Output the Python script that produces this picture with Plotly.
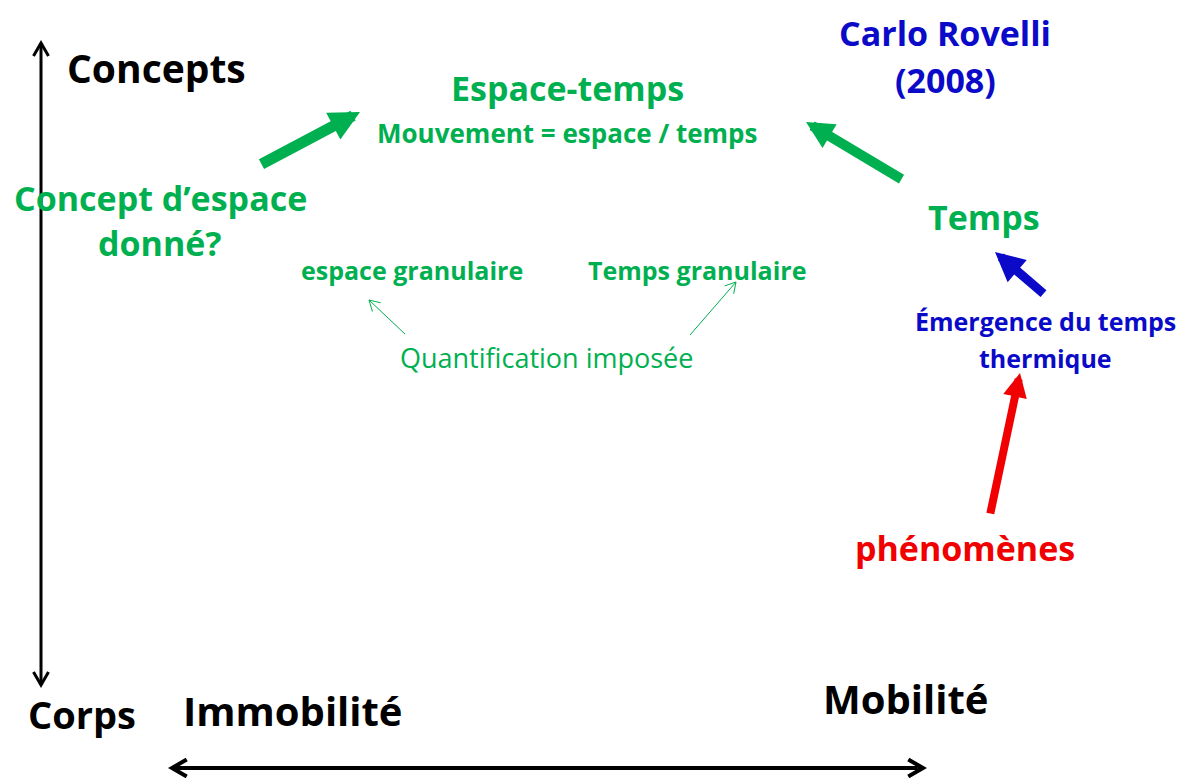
import math
import plotly.graph_objects as go

W, H = 1193, 778
FONT = "'Open Sans', Lato, sans-serif"

GREEN = "#00B050"
BLUE = "#0A0AC8"
RED = "#F00000"
BLACK = "#000000"

# Text labels
label_text = [
    "Concepts", "Corps", "Immobilité", "Mobilité",
    "Espace-temps", "Mouvement = espace / temps",
    "Concept d’espace", "donné?",
    "Temps", "espace granulaire", "Temps granulaire",
    "Quantification imposée",
    "Carlo Rovelli", "(2008)",
    "Émergence du temps", "thermique",
    "phénomènes",
]
label_x = [156, 82, 293, 905, 567, 567, 160, 160, 984, 412, 697, 546, 945, 945, 1045, 1045, 965]
label_y = [67, 714, 710, 698, 88, 133, 198, 243, 217, 270, 270, 357, 33, 80, 321, 358, 548]
label_size = [39, 38, 40, 40, 34, 26, 34, 34, 34, 25, 25, 27, 34, 34, 25, 25, 34]
label_color = [BLACK, BLACK, BLACK, BLACK, GREEN, GREEN, GREEN, GREEN, GREEN, GREEN, GREEN,
               GREEN, BLUE, BLUE, BLUE, BLUE, RED]
label_bold = [True] * 11 + [False] + [True] * 5

# Thick arrows with filled heads: tail (x0, y0) -> tip (x1, y1)
thick_x0 = [260, 903, 1045, 990]
thick_y0 = [165, 180, 295, 515]
thick_x1 = [360, 806, 995, 1020]
thick_y1 = [112, 122, 252, 373]
thick_color = [GREEN, GREEN, BLUE, RED]
thick_width = [11, 10, 9, 8]
thick_hsize = [0.55, 0.55, 0.65, 0.6]

# Line arrows with open V heads: tail -> tip, double headed if flagged
line_x0 = [41, 172, 405, 690]
line_y0 = [685, 768, 334, 335]
line_x1 = [41, 923, 369, 736]
line_y1 = [43, 768, 300, 282]
line_color = [BLACK, BLACK, GREEN, GREEN]
line_width = [3, 4, 1, 1]
line_double = [True, True, False, False]
line_head_len = [15, 17, 12, 12]

fig = go.Figure()
fig.add_trace(go.Scatter(x=[0, W], y=[0, H], mode="markers",
                         marker=dict(opacity=0), hoverinfo="skip", showlegend=False))


def v_head(tx, ty, fx, fy, length, ang=30):
    dx, dy = fx - tx, fy - ty
    n = math.hypot(dx, dy)
    ux, uy = dx / n, dy / n
    pts = []
    for s in (1, -1):
        a = math.radians(ang * s)
        rx = ux * math.cos(a) - uy * math.sin(a)
        ry = ux * math.sin(a) + uy * math.cos(a)
        pts.append((tx + rx * length, ty + ry * length))
    return [pts[0][0], tx, pts[1][0]], [pts[0][1], ty, pts[1][1]]


for x0, y0, x1, y1, c, w, dbl, L in zip(line_x0, line_y0, line_x1, line_y1, line_color,
                                        line_width, line_double, line_head_len):
    fig.add_trace(go.Scatter(x=[x0, x1], y=[y0, y1], mode="lines",
                             line=dict(color=c, width=w), hoverinfo="skip", showlegend=False))
    hx, hy = v_head(x1, y1, x0, y0, L)
    fig.add_trace(go.Scatter(x=hx, y=hy, mode="lines", line=dict(color=c, width=w),
                             hoverinfo="skip", showlegend=False))
    if dbl:
        hx, hy = v_head(x0, y0, x1, y1, L)
        fig.add_trace(go.Scatter(x=hx, y=hy, mode="lines", line=dict(color=c, width=w),
                                 hoverinfo="skip", showlegend=False))

for x0, y0, x1, y1, c, w, s in zip(thick_x0, thick_y0, thick_x1, thick_y1,
                                   thick_color, thick_width, thick_hsize):
    fig.add_annotation(x=x1, y=y1, ax=x0, ay=y0, xref="x", yref="y", axref="x", ayref="y",
                       text="", showarrow=True, arrowcolor=c, arrowwidth=w,
                       arrowhead=2, arrowsize=s)

for t, x, y, sz, c, b in zip(label_text, label_x, label_y, label_size, label_color, label_bold):
    fig.add_annotation(x=x, y=y, xref="x", yref="y", showarrow=False,
                       text=f"<b>{t}</b>" if b else t,
                       font=dict(family=FONT, size=sz, color=c),
                       xanchor="center", yanchor="middle")

fig.update_xaxes(range=[0, W], visible=False, fixedrange=True)
fig.update_yaxes(range=[H, 0], visible=False, fixedrange=True)
fig.update_layout(width=W, height=H, margin=dict(l=0, r=0, t=0, b=0),
                  plot_bgcolor="white", paper_bgcolor="white", showlegend=False)

fig.write_html("out.html", config={"displayModeBar": False, "staticPlot": True},
               post_script="document.body.style.margin='0';document.body.style.overflow='hidden';")
